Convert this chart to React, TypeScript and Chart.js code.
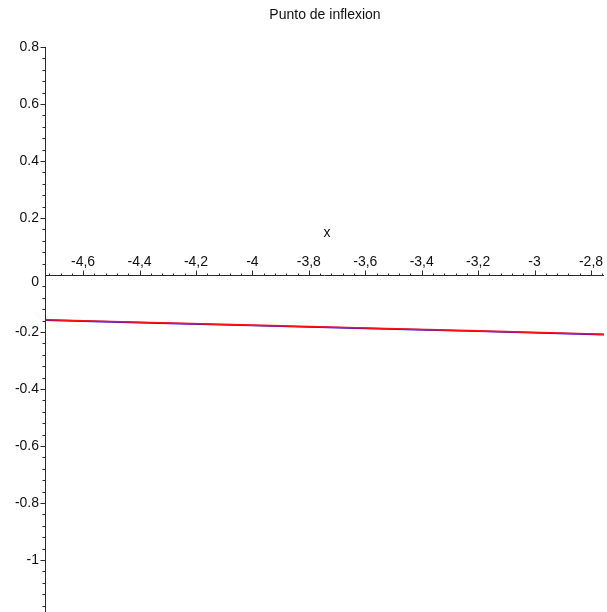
import { useEffect, useRef } from 'react';
import { Chart, registerables } from 'chart.js';

Chart.register(...registerables);

const TITLE = 'Punto de inflexion';
const X_LABEL = 'x';

// Sample x positions and values
const xValues = [-4.735, -4.4, -4.0, -3.6, -3.2, -2.754];
const tangentValues = [-0.157, -0.166, -0.176, -0.186, -0.196, -0.208]; // red
const curveValues = [-0.1582, -0.1672, -0.1772, -0.1872, -0.1973, -0.2092]; // blue

const xTickValues = [-4.6, -4.4, -4.2, -4, -3.8, -3.6, -3.4, -3.2, -3, -2.8];
const xTickLabels = ['-4,6', '-4,4', '-4,2', '-4', '-3,8', '-3,6', '-3,4', '-3,2', '-3', '-2,8'];
const yTickValues = [0.8, 0.6, 0.4, 0.2, 0, -0.2, -0.4, -0.6, -0.8, -1];
const yTickLabels = ['0.8', '0.6', '0.4', '0.2', '0', '-0.2', '-0.4', '-0.6', '-0.8', '-1'];

const X_MIN = -4.735;
const X_MAX = -2.754;
const Y_MIN = -1.1825;
const Y_MAX = 0.8;
const MINOR_STEP = 0.04;

const FONT = '14px "Liberation Sans", Arial, sans-serif';

const axesPlugin = {
  id: 'mapleAxes',
  afterDraw(chart: any) {
    const ctx = chart.ctx as CanvasRenderingContext2D;
    const xs = chart.scales.x;
    const ys = chart.scales.y;
    const { left, right, top, bottom } = chart.chartArea;
    const y0 = Math.round(ys.getPixelForValue(0)) + 0.5;
    const xAxis = Math.round(left) + 0.5;
    ctx.save();
    ctx.strokeStyle = '#2a2a2a';
    ctx.lineWidth = 1;

    // axis lines
    ctx.beginPath();
    ctx.moveTo(left, y0);
    ctx.lineTo(right, y0);
    ctx.moveTo(xAxis, top);
    ctx.lineTo(xAxis, bottom);
    ctx.stroke();

    // x ticks
    ctx.beginPath();
    const kx0 = Math.ceil(X_MIN / MINOR_STEP - 1e-6);
    const kx1 = Math.floor(X_MAX / MINOR_STEP + 1e-6);
    for (let k = kx0; k <= kx1; k++) {
      const px = Math.round(xs.getPixelForValue(k * MINOR_STEP)) + 0.5;
      const major = k % 5 === 0;
      ctx.moveTo(px, y0);
      ctx.lineTo(px, y0 - (major ? 5 : 2));
    }
    // y ticks
    const ky0 = Math.ceil(Y_MIN / MINOR_STEP - 1e-6);
    const ky1 = Math.floor(Y_MAX / MINOR_STEP + 1e-6);
    for (let k = ky0; k <= ky1; k++) {
      if (k === 0) continue;
      const py = Math.round(ys.getPixelForValue(k * MINOR_STEP)) + 0.5;
      const major = k % 5 === 0;
      ctx.moveTo(xAxis, py);
      ctx.lineTo(xAxis - (major ? 5 : 3), py);
    }
    ctx.stroke();

    // labels
    ctx.fillStyle = '#111';
    ctx.font = FONT;
    ctx.textAlign = 'center';
    ctx.textBaseline = 'middle';
    xTickValues.forEach((v, i) => {
      ctx.fillText(xTickLabels[i], xs.getPixelForValue(v), y0 - 13);
    });
    ctx.textAlign = 'right';
    yTickValues.forEach((v, i) => {
      const py = ys.getPixelForValue(v) + (v === 0 ? 7 : 0);
      ctx.fillText(yTickLabels[i], 39, py);
    });

    ctx.textAlign = 'center';
    ctx.fillText(X_LABEL, 327, y0 - 42);
    ctx.fillText(TITLE, 325, 15);
    ctx.restore();
  },
};

export default function App() {
  const canvasRef = useRef<HTMLCanvasElement | null>(null);

  useEffect(() => {
    document.body.style.margin = '0';
    const canvas = canvasRef.current;
    if (!canvas) return;
    const chart = new Chart(canvas, {
      type: 'line',
      data: {
        datasets: [
          {
            label: 'tangent',
            data: xValues.map((x, i) => ({ x, y: tangentValues[i] })),
            borderColor: '#ff1010',
            borderWidth: 1.6,
            pointRadius: 0,
            tension: 0,
            fill: false,
          },
          {
            label: 'curve',
            data: xValues.map((x, i) => ({ x, y: curveValues[i] })),
            borderColor: '#1010ff',
            borderWidth: 1.6,
            pointRadius: 0,
            tension: 0,
            fill: false,
          },
        ],
      },
      options: {
        animation: false,
        responsive: false,
        devicePixelRatio: 1,
        layout: { padding: { left: 45, right: 3, top: 47, bottom: 0 } },
        scales: {
          x: { type: 'linear', min: X_MIN, max: X_MAX, display: false },
          y: { type: 'linear', min: Y_MIN, max: Y_MAX, display: false },
        },
        plugins: {
          legend: { display: false },
          tooltip: { enabled: false },
          title: { display: false },
        },
      },
      plugins: [axesPlugin],
    });
    return () => chart.destroy();
  }, []);

  return (
    <div style={{ width: 607, height: 612, background: '#fff' }}>
      <canvas ref={canvasRef} width={607} height={612} style={{ display: 'block' }} />
    </div>
  );
}
